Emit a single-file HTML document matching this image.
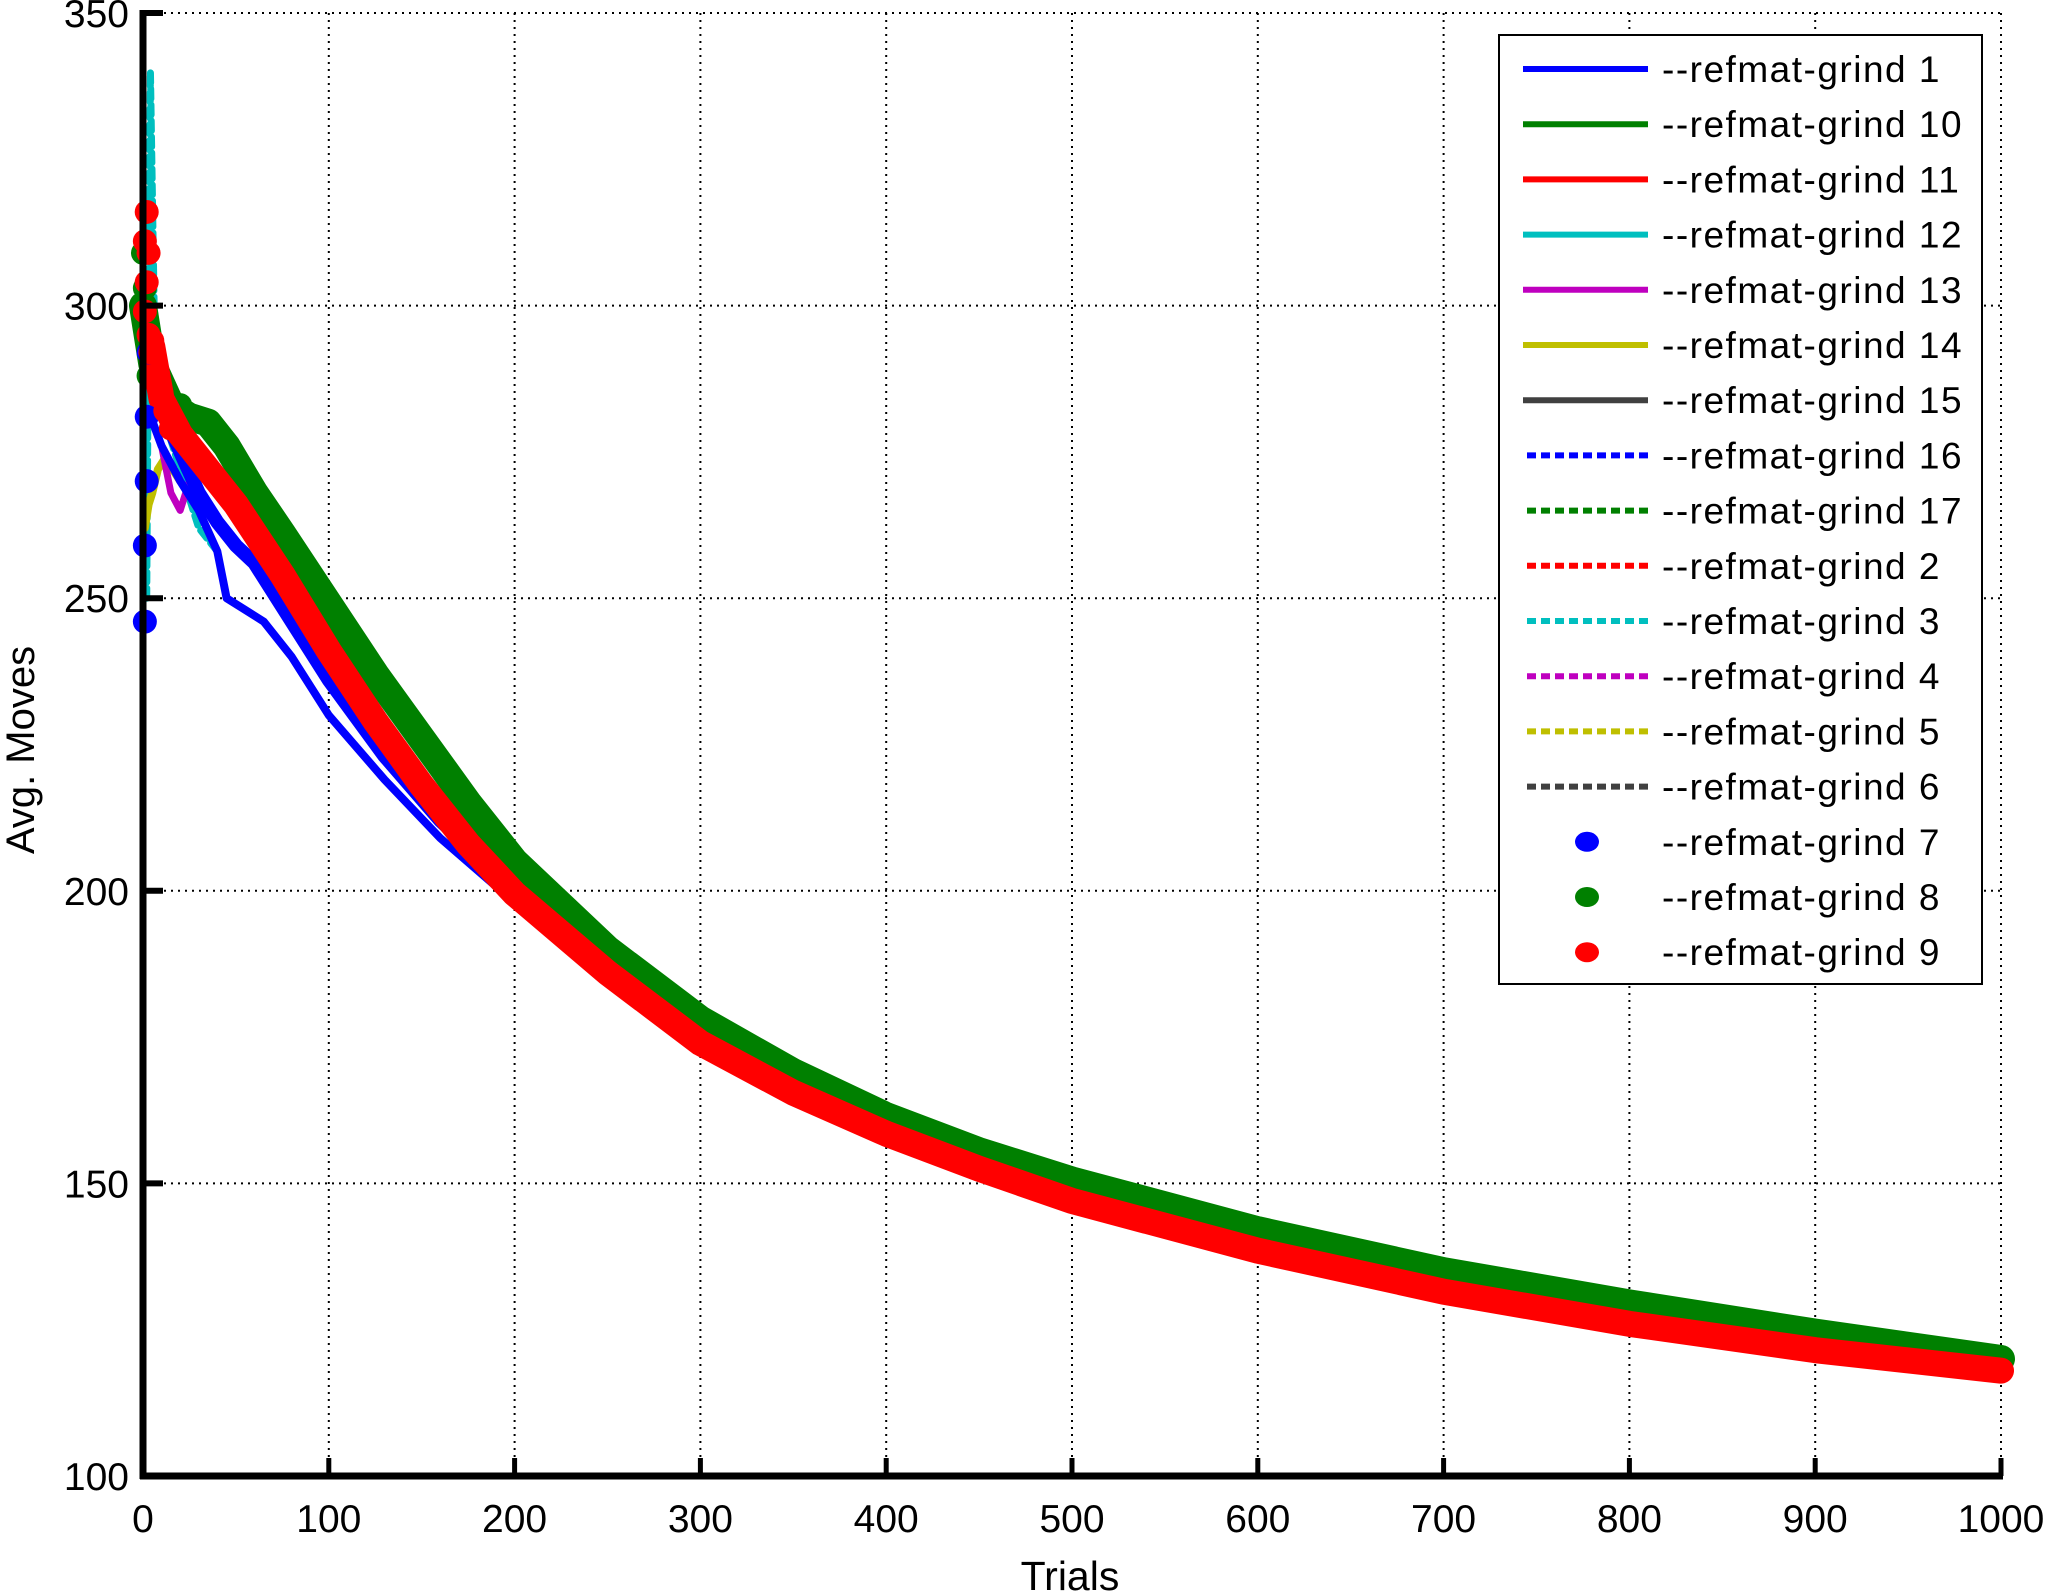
<!DOCTYPE html>
<html><head><meta charset="utf-8"><style>
html,body{margin:0;padding:0;background:#fff;}
svg{display:block;font-family:"Liberation Sans",Arial,sans-serif;}
</style></head><body>
<svg id="chart" width="2047" height="1592" viewBox="0 0 2047 1592" xmlns="http://www.w3.org/2000/svg">
<g id="grid"></g>
<g id="series"></g>
<g id="axes"></g>
<g id="legend"></g>
<text x="1070" y="1590" font-size="41" text-anchor="middle">Trials</text>
<text x="0" y="0" font-size="40" text-anchor="middle" transform="translate(34,750) rotate(-90)">Avg. Moves</text>
</svg>
<script>
const xTicks=[0,100,200,300,400,500,600,700,800,900,1000];
const yTicks=[100,150,200,250,300,350];
// series 8 (green markers)
const greenX=[0,5,15,25,35,45,60,75,100,125,150,175,200,250,300,350,400,450,500,600,700,800,900,1000];
const greenY=[300,290,283,281,280,276,268,261,249,237,226,215,205,190,178,169,161.5,155.5,150.5,142,135,129.5,124.5,120];
// series 9 (red markers)
const redX=[5,10,20,30,40,50,75,100,125,150,175,200,250,300,350,400,450,500,600,700,800,900,1000];
const redY=[293,284,278,274,270,266,254,241,229,218,208,199.5,186,174,165.5,158.5,152.5,147,138.5,131.5,126,121.5,118];
// series 1 (blue line)
const blueX=[3,10,20,30,40,45,55,65,80,100,130,160,200];
const blueY=[282,276,270,265,258,250,248,246,240,230,219,209,198];
// series 16 (blue dashed)
const blue2X=[3,10,20,30,40,50,60,80,100,130,160,200];
const blue2Y=[290,282,275,268,263,259,256,246,236,223,212,200];
// early scatter points
const redPtsX=[2,1,3,2,1,3,5,4,7,10,12,15];
const redPtsY=[316,311,309,304,299,295,294,292,288,285,282,279];
const bluePtsX=[1,1,2,2,3];
const bluePtsY=[246,259,270,281,292];
const greenPtsX=[0,1,2,3,10,20];
const greenPtsY=[309,303,297,288,287,283];
const cyanX=[2,3,4,5,6,8,12,20,30,40];
const cyanY=[250,300,340,320,300,290,280,272,262,258];
const yellowX=[1,3,5,8,12,20];
const yellowY=[262,266,268,272,274,270];
const magentaX=[10,15,20,25];
const magentaY=[276,268,265,270];

const X0=143,X1=2001,Y0=1476,Y1=13;
const sx=v=>X0+(v-0)/1000*(X1-X0);
const sy=v=>Y0-(v-100)/250*(Y0-Y1);
const NS="http://www.w3.org/2000/svg";
function mk(tag,attrs,parent){const e=document.createElementNS(NS,tag);for(const k in attrs)e.setAttribute(k,attrs[k]);parent.appendChild(e);return e;}
const grid=document.getElementById('grid'),ser=document.getElementById('series'),axes=document.getElementById('axes'),leg=document.getElementById('legend');

xTicks.forEach(t=>{
  if(t>0){const l=mk('line',{x1:sx(t),x2:sx(t),y1:Y1,y2:Y0,stroke:'#000','stroke-width':2,'stroke-dasharray':'2 5'},grid);
  
  }
  const tk=mk('line',{x1:sx(t),x2:sx(t),y1:Y0,y2:Y0-18,stroke:'#000','stroke-width':5},axes);
  
  
  const tx=mk('text',{x:sx(t),y:1532,'font-size':39,'text-anchor':'middle'},axes);tx.textContent=t;
  
  
});
yTicks.forEach(t=>{
  if(t>100){const l=mk('line',{x1:X0,x2:X1,y1:sy(t),y2:sy(t),stroke:'#000','stroke-width':2,'stroke-dasharray':'2 5'},grid);
  
  }
  const tk=mk('line',{x1:X0,x2:X0+20,y1:sy(t),y2:sy(t),stroke:'#000','stroke-width':6},axes);
  
  
  const tx=mk('text',{x:129,y:sy(t)+14,'font-size':39,'text-anchor':'end'},axes);tx.textContent=t;
  
  
});
const ya=mk('line',{x1:X0,x2:X0,y1:Y1-3,y2:Y0+3,stroke:'#000','stroke-width':7},axes);


const xa=mk('line',{x1:X0-3,x2:X1+2,y1:Y0,y2:Y0,stroke:'#000','stroke-width':7},axes);



function pts(xs,ys){return xs.map((x,i)=>sx(x)+','+sy(ys[i])).join(' ');}
function line(xs,ys,col,w,name,dash){
  const a={points:pts(xs,ys),fill:'none',stroke:col,'stroke-width':w,'stroke-linejoin':'round','stroke-linecap':'round'};
  if(dash)a['stroke-dasharray']=dash;
  const p=mk('polyline',a,ser);
  
  
}
function dots(xs,ys,col,r,name){
  xs.forEach((x,i)=>{const c=mk('circle',{cx:sx(x),cy:sy(ys[i]),r:r,fill:col},ser);
  
  });
}
line(cyanX,cyanY,'#00bfbf',7,'series-12-line','10 6');
line(yellowX,yellowY,'#bfbf00',8,'series-14-line');
line(magentaX,magentaY,'#bf00bf',7,'series-13-line');
line(blueX,blueY,'#0000ff',8,'series-1-line');
line(blue2X,blue2Y,'#0000ff',14,'series-16-line');
line(greenX,greenY,'#008000',28,'series-8-markers');
dots(greenPtsX,greenPtsY,'#008000',12,'series-8-marker');
line(redX,redY,'#ff0000',26,'series-9-markers');
dots(bluePtsX,bluePtsY,'#0000ff',12,'series-7-marker');
dots(redPtsX,redPtsY,'#ff0000',12,'series-9-marker');

// legend
const labels=['1','10','11','12','13','14','15','16','17','2','3','4','5','6','7','8','9'];
const colors=['#0000ff','#008000','#ff0000','#00bfbf','#bf00bf','#bfbf00','#404040','#0000ff','#008000','#ff0000','#00bfbf','#bf00bf','#bfbf00','#404040','#0000ff','#008000','#ff0000'];
const styles=['s','s','s','s','s','s','s','d','d','d','d','d','d','d','m','m','m'];
const box=mk('rect',{x:1499,y:35,width:483,height:949,fill:'#fff',stroke:'#000','stroke-width':2},leg);


labels.forEach((lb,i)=>{
  const y=69+i*55.2;
  const g=mk('g',{},leg);
  
  
  if(styles[i]==='m'){mk('ellipse',{cx:1587,cy:y,rx:12,ry:10,fill:colors[i]},g);}
  else{const a={x1:styles[i]==='d'?1527:1523,x2:1648,y1:y,y2:y,stroke:colors[i],'stroke-width':6};
    if(styles[i]==='d')a['stroke-dasharray']='9 5';mk('line',a,g);}
  const t=mk('text',{x:1662,y:y+13,'font-size':37,'letter-spacing':'1.5'},g);t.textContent='--refmat-grind '+lb;
});
</script>
</body></html>
